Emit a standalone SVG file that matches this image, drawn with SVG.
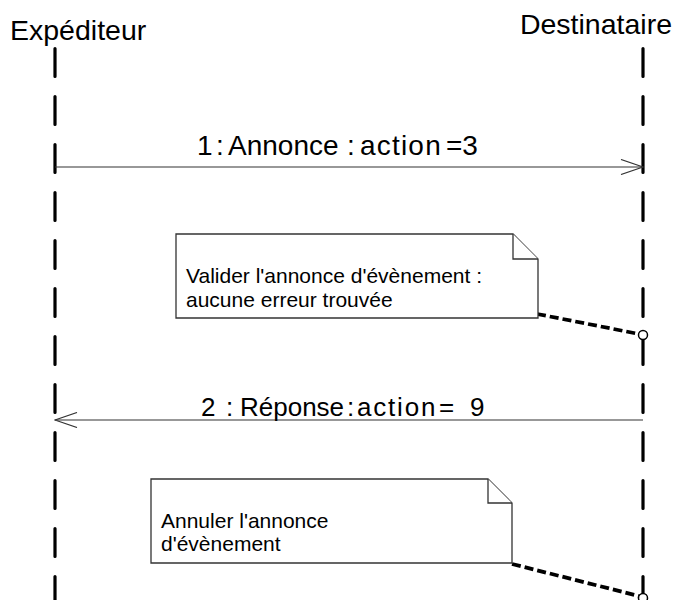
<svg xmlns="http://www.w3.org/2000/svg" width="674" height="600" viewBox="0 0 674 600">
<style>
text{font-family:"Liberation Sans",Arial,sans-serif;fill:#000}
.head{font-size:28.5px}
.msg1{font-size:28px}
.msg2{font-size:26px}
.note{font-size:21px}
.life{stroke:#000;stroke-width:3.2;stroke-dasharray:28 20;stroke-linecap:round;fill:none}
.arrow{stroke:#333;stroke-width:1.2;fill:none}
.nbox{fill:#fff;stroke:#333;stroke-width:1.3}
.anchor{stroke:#000;stroke-width:3.8;stroke-dasharray:9 4;fill:none}
.pin{fill:#fff;stroke:#000;stroke-width:1.5}
</style>
<defs>
<marker id="open" viewBox="0 0 24 16" refX="23" refY="8" markerWidth="24" markerHeight="16" markerUnits="userSpaceOnUse" orient="auto">
<path d="M1,0.5 L23,8 L1,15.5" fill="none" stroke="#333" stroke-width="1.2"/>
</marker>
</defs>
<g id="sender">
<text class="head" x="10" y="40">Expéditeur</text>
<line class="life" x1="55" y1="48.5" x2="55" y2="600"/>
</g>
<g id="receiver">
<text class="head" x="672" y="34" text-anchor="end">Destinataire</text>
<line class="life" x1="643" y1="48.5" x2="643" y2="600"/>
</g>
<g id="connectors">
<line class="arrow" x1="55" y1="167" x2="643" y2="167" marker-end="url(#open)"/>
<text class="msg1" y="155"><tspan x="197">1</tspan><tspan x="216">:</tspan><tspan x="228">Annonce</tspan><tspan x="347">:</tspan><tspan x="360" letter-spacing="1.2">action</tspan><tspan x="446">=3</tspan></text>
<line class="arrow" x1="643" y1="420" x2="55" y2="420" marker-end="url(#open)"/>
<text class="msg2" y="416"><tspan x="201">2</tspan><tspan x="226">:</tspan><tspan x="240">Réponse</tspan><tspan x="347">:</tspan><tspan x="357" letter-spacing="1.8">action</tspan><tspan x="439">=</tspan><tspan x="470">9</tspan></text>
<line class="anchor" x1="537" y1="314" x2="639" y2="334"/>
<circle class="pin" cx="643" cy="335" r="4.5"/>
<line class="anchor" x1="512" y1="564" x2="639" y2="596"/>
<circle class="pin" cx="643" cy="598" r="4.5"/>
</g>
<g id="note1">
<path class="nbox" d="M176,234 H513 L538,259 V318 H176 Z"/>
<path class="nbox" d="M513,234 V259 H538" fill="none"/>
<text class="note" x="186" y="283">Valider l'annonce d'évènement :</text>
<text class="note" x="186" y="307">aucune erreur trouvée</text>
</g>
<g id="note2">
<path class="nbox" d="M151,479 H488 L512,503 V563 H151 Z"/>
<path class="nbox" d="M488,479 V503 H512" fill="none"/>
<text class="note" x="161" y="528">Annuler l'annonce</text>
<text class="note" x="161" y="551">d'évènement</text>
</g>
</svg>
